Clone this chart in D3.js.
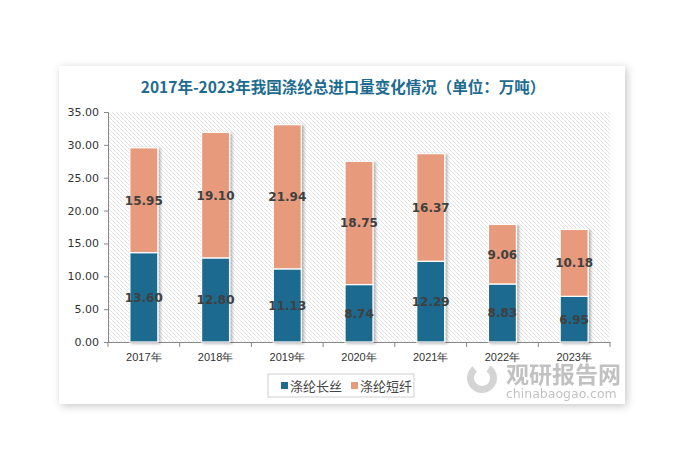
<!DOCTYPE html>
<html>
<head>
<meta charset="utf-8">
<script src="https://cdn.jsdelivr.net/npm/d3@7"></script>
<style>
  body { margin: 0; background: #fff; }
  svg { display: block; font-family: "Noto Sans CJK SC", "DejaVu Sans", sans-serif; }
</style>
</head>
<body>
<script>
// years + two stacked series (万吨)
var years = ["2017年", "2018年", "2019年", "2020年", "2021年", "2022年", "2023年"];
var filament = [13.60, 12.80, 11.13, 8.74, 12.29, 8.83, 6.95];
var staple = [15.95, 19.10, 21.94, 18.75, 16.37, 9.06, 10.18];
var seriesNames = ["涤纶长丝", "涤纶短纤"];
var yTicks = [0, 5, 10, 15, 20, 25, 30, 35];

var colors = ["#1d6b8f", "#e89b7b"];

var W = 681, H = 455;
var svg = d3.select("body").append("svg").attr("width", W).attr("height", H);
var defs = svg.append("defs");

var cardShadow = defs.append("filter").attr("id", "cardShadow")
  .attr("x", "-10%").attr("y", "-10%").attr("width", "120%").attr("height", "120%");
cardShadow.append("feDropShadow").attr("dx", 2).attr("dy", 2).attr("stdDeviation", 4)
  .attr("flood-color", "#000").attr("flood-opacity", 0.22);

var barShadow = defs.append("filter").attr("id", "barShadow")
  .attr("x", "-30%").attr("y", "-10%").attr("width", "160%").attr("height", "120%");
barShadow.append("feDropShadow").attr("dx", 2).attr("dy", 1).attr("stdDeviation", 1.5)
  .attr("flood-color", "#000").attr("flood-opacity", 0.3);

// hatched plot background
var pat = defs.append("pattern").attr("id", "hatch")
  .attr("patternUnits", "userSpaceOnUse").attr("width", 4).attr("height", 4);
pat.append("rect").attr("width", 4).attr("height", 4).attr("fill", "#fff");
pat.append("path").attr("d", "M-1,-1 L5,5 M-1,3 L1,5 M3,-1 L5,1")
  .attr("stroke", "#e0e0e0").attr("stroke-width", 0.9);

// card
svg.append("rect").attr("x", 59).attr("y", 66).attr("width", 566).attr("height", 338)
  .attr("fill", "#fff").attr("filter", "url(#cardShadow)");

svg.append("text").attr("x", 343).attr("y", 93).attr("text-anchor", "middle")
  .attr("font-size", 15.5).attr("font-weight", "bold").attr("fill", "#1d6b8f")
  .text("2017年-2023年我国涤纶总进口量变化情况（单位：万吨）");

var plotL = 108, plotR = 610, plotT = 112, plotB = 342;

var x = d3.scaleBand().domain(years).range([plotL, plotR]).paddingInner(0.61).paddingOuter(0.305);
var y = d3.scaleLinear().domain([0, 35]).range([plotB, plotT]);

svg.append("rect").attr("x", plotL).attr("y", plotT).attr("width", plotR - plotL).attr("height", plotB - plotT)
  .attr("fill", "url(#hatch)");

// axes
var yAxis = svg.append("g").attr("transform", "translate(" + plotL + ",0)")
  .call(d3.axisLeft(y).tickValues(yTicks).tickFormat(d3.format(".2f")).tickSize(4).tickPadding(5));
yAxis.select(".domain").attr("stroke", "#888");
yAxis.selectAll(".tick line").attr("stroke", "#888");
yAxis.selectAll("text").attr("font-size", 11).attr("fill", "#333").attr("font-family", "DejaVu Sans, sans-serif");

var xAxis = svg.append("g").attr("transform", "translate(0," + plotB + ")")
  .call(d3.axisBottom(x).tickSize(0).tickPadding(11));
xAxis.select(".domain").attr("stroke", "#888");
xAxis.selectAll("text").attr("font-size", 11).attr("fill", "#333");
// boundary ticks between categories
var step = x.step();
xAxis.selectAll(".bnd").data(d3.range(years.length + 1)).enter().append("line")
  .attr("x1", function(i){ return plotL + i * step; })
  .attr("x2", function(i){ return plotL + i * step; })
  .attr("y1", 0).attr("y2", 5).attr("stroke", "#888");

// stacked bars
var rows = years.map(function(yr, i){ return {year: yr, a: filament[i], b: staple[i]}; });
var stack = d3.stack().keys(["a", "b"])(rows);

var groups = svg.append("g").attr("filter", "url(#barShadow)");
stack.forEach(function(layer, k){
  groups.selectAll(".bar" + k).data(layer).enter().append("rect")
    .attr("x", function(d){ return x(d.data.year); })
    .attr("width", x.bandwidth())
    .attr("y", function(d){ return y(d[1]); })
    .attr("height", function(d){ return y(d[0]) - y(d[1]); })
    .attr("fill", colors[k])
    .attr("stroke", "#fff").attr("stroke-width", 1.2);
});

stack.forEach(function(layer){
  svg.selectAll(null).data(layer).enter().append("text")
    .attr("x", function(d){ return x(d.data.year) + x.bandwidth() / 2; })
    .attr("y", function(d){ return y((d[0] + d[1]) / 2) + 4.5; })
    .attr("text-anchor", "middle")
    .attr("font-size", 12).attr("font-weight", "bold").attr("fill", "#404040")
    .attr("font-family", "DejaVu Sans, sans-serif")
    .text(function(d){ return d3.format(".2f")(d[1] - d[0]); });
});

// watermark
var wm = svg.append("g").attr("opacity", 0.6);
wm.append("path")
  .attr("transform", "translate(482,378)")
  .attr("d", d3.arc().innerRadius(8).outerRadius(15).startAngle(0.6).endAngle(5.6)())
  .attr("fill", "#b8b8b8");
wm.append("text").attr("x", 506).attr("y", 383).attr("font-size", 23).attr("font-weight", "bold")
  .attr("fill", "#999").text("观研报告网");
wm.append("text").attr("x", 506).attr("y", 398).attr("font-size", 12.5)
  .attr("fill", "#999").attr("font-family", "DejaVu Sans, sans-serif").text("chinabaogao.com");

// legend
var lg = svg.append("g");
lg.append("rect").attr("x", 268).attr("y", 374).attr("width", 146).attr("height", 23)
  .attr("fill", "#fff").attr("stroke", "#d0d0d0");
var lx = [281, 351];
seriesNames.forEach(function(n, i){
  lg.append("rect").attr("x", lx[i]).attr("y", 382).attr("width", 7).attr("height", 7).attr("fill", colors[i]);
  lg.append("text").attr("x", lx[i] + 9).attr("y", 390.5).attr("font-size", 13).attr("fill", "#444").text(n);
});
</script>
</body>
</html>
